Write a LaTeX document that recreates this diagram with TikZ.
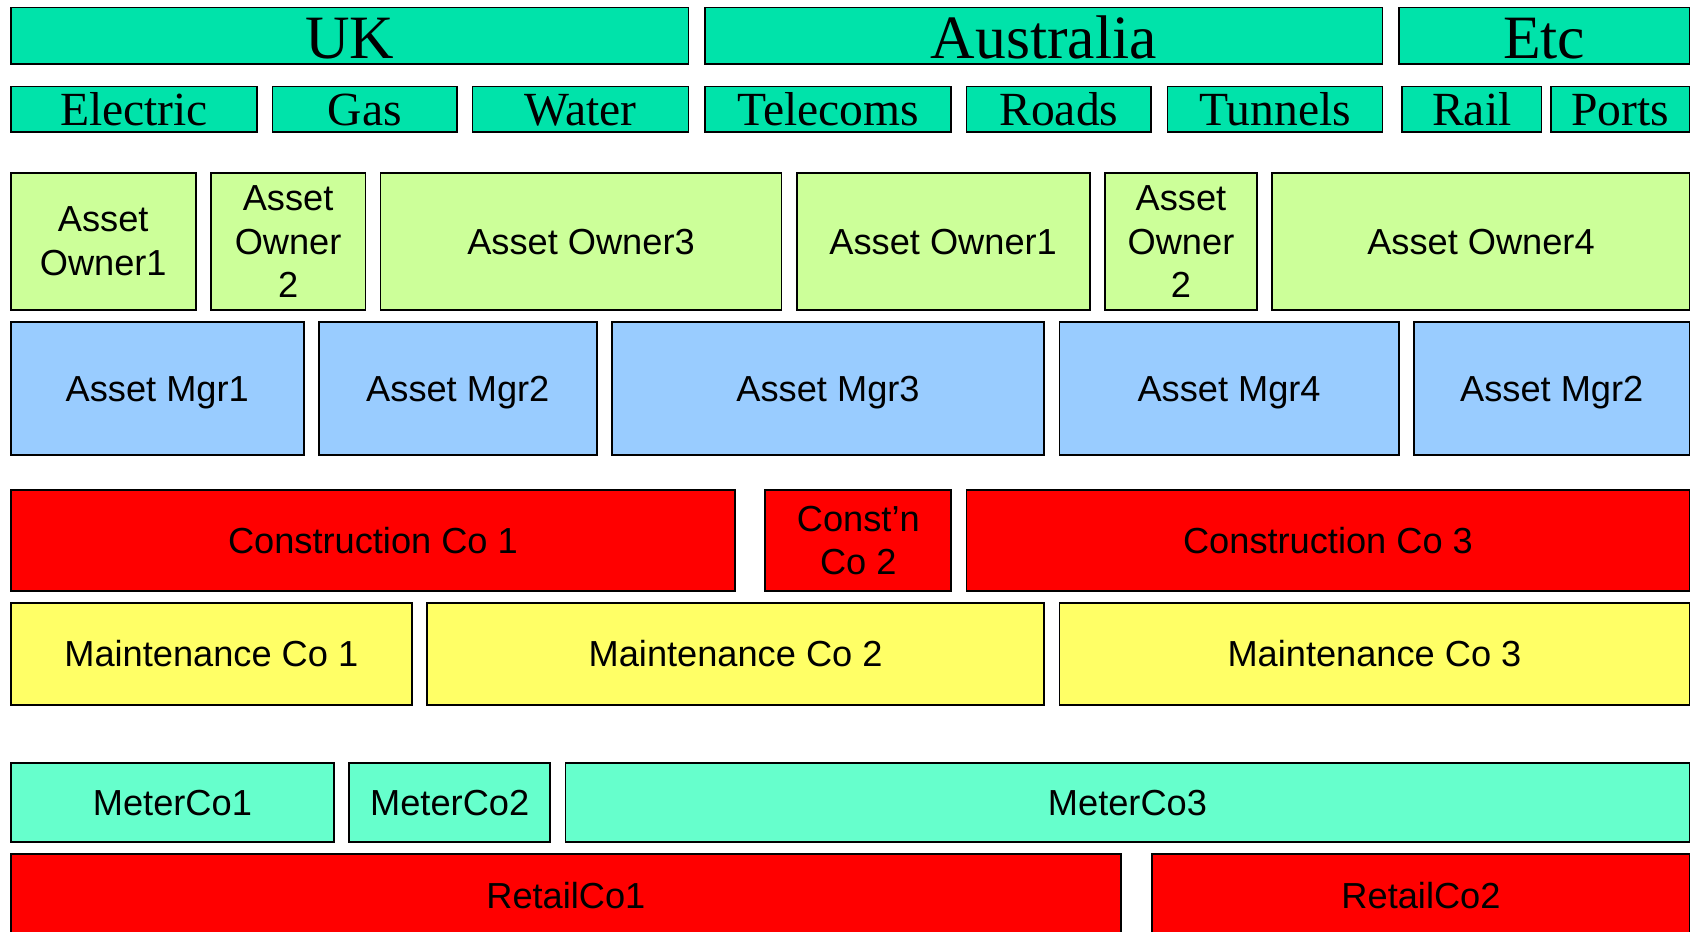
\documentclass[tikz,border=0pt]{standalone}
\usepackage{fontspec}
\setmainfont{Liberation Serif}
\setsansfont{Liberation Sans}
\definecolor{regionteal}{RGB}{0,227,170}
\definecolor{ownergreen}{RGB}{204,255,153}
\definecolor{mgrblue}{RGB}{153,204,255}
\definecolor{conred}{RGB}{255,0,0}
\definecolor{mainyellow}{RGB}{255,255,102}
\definecolor{meteraqua}{RGB}{102,255,204}
\tikzset{
  cellbox/.style={draw=black, line width=1.6pt, inner sep=0pt, outer sep=0pt, align=center},
  % single-line labels: capitals centred in the box
  oneline/.style={text height=24pt, text depth=0pt},
  country/.style={cellbox, fill=regionteal, font=\rmfamily\fontsize{57}{60}\selectfont,
    text height=41.7pt, text depth=0pt},
  sector/.style={cellbox, fill=regionteal, font=\rmfamily\fontsize{44}{48}\selectfont,
    text height=31.1pt, text depth=0pt},
  owner/.style={cellbox, fill=ownergreen, font=\sffamily\fontsize{33.5}{40.5}\selectfont},
  manager/.style={cellbox, fill=mgrblue, font=\sffamily\fontsize{33.5}{40.5}\selectfont},
  builder/.style={cellbox, fill=conred, font=\sffamily\fontsize{33.5}{40.5}\selectfont},
  maintainer/.style={cellbox, fill=mainyellow, font=\sffamily\fontsize{33.5}{40.5}\selectfont},
  meter/.style={cellbox, fill=meteraqua, font=\sffamily\fontsize{33.5}{40.5}\selectfont},
  retailer/.style={cellbox, fill=conred, font=\sffamily\fontsize{33.5}{40.5}\selectfont},
}
% \cell{name}{left}{top}{right}{bottom}{style}{text}
\newcommand\cell[7]{%
  \node[#6, minimum width={#4-#2}, minimum height={#5-#3}] (#1)
    at ({(#2+#4)/2},{(#3+#5)/2}) {#7};}
\begin{document}
\begin{tikzpicture}[x=1pt, y=-1pt]
  \useasboundingbox (0,0) rectangle (1568,862);
  \clip (0,0) rectangle (1568,862);
  % countries
  \cell{uk}{10}{7}{637}{59}{country}{UK}
  \cell{aus}{652}{7}{1279}{59}{country}{Australia}
  \cell{etc}{1294}{7}{1563}{59}{country}{Etc}
  % sectors
  \cell{elec}{10}{80}{238}{122}{sector}{Electric}
  \cell{gas}{252}{80}{423}{122}{sector}{Gas}
  \cell{water}{437}{80}{637}{122}{sector}{Water}
  \cell{tele}{652}{80}{880}{122}{sector}{Telecoms}
  \cell{roads}{894}{80}{1065}{122}{sector}{Roads}
  \cell{tunnels}{1080}{80}{1279}{122}{sector}{Tunnels}
  \cell{rail}{1297}{80}{1426}{122}{sector}{Rail}
  \cell{ports}{1435}{80}{1563}{122}{sector}{Ports}
  % asset owners
  \cell{aoA}{10}{160}{181}{287}{owner}{Asset\\Owner1}
  \cell{aoB}{195}{160}{338}{287}{owner}{Asset\\Owner\\2}
  \cell{aoC}{352}{160}{723}{287}{owner,oneline}{Asset Owner3}
  \cell{aoD}{737}{160}{1008}{287}{owner,oneline}{Asset Owner1}
  \cell{aoE}{1022}{160}{1163}{287}{owner}{Asset\\Owner\\2}
  \cell{aoF}{1177}{160}{1563}{287}{owner,oneline}{Asset Owner4}
  % asset managers
  \cell{amA}{10}{298}{281}{421}{manager,oneline}{Asset Mgr1}
  \cell{amB}{295}{298}{552}{421}{manager,oneline}{Asset Mgr2}
  \cell{amC}{566}{298}{966}{421}{manager,oneline}{Asset Mgr3}
  \cell{amD}{980}{298}{1294}{421}{manager,oneline}{Asset Mgr4}
  \cell{amE}{1308}{298}{1563}{421}{manager,oneline}{Asset Mgr2}
  % construction companies
  \cell{ccA}{10}{453}{680}{547}{builder,oneline}{Construction Co 1}
  \cell{ccB}{708}{453}{880}{547}{builder}{Const’n\\Co 2}
  \cell{ccC}{894}{453}{1563}{547}{builder,oneline}{Construction Co 3}
  % maintenance companies
  \cell{mcA}{10}{558}{381}{652}{maintainer,oneline}{Maintenance Co 1}
  \cell{mcB}{395}{558}{966}{652}{maintainer,oneline}{Maintenance Co 2}
  \cell{mcC}{980}{558}{1563}{652}{maintainer,oneline}{Maintenance Co 3}
  % meter companies
  \cell{meA}{10}{706}{309}{779}{meter,oneline}{MeterCo1}
  \cell{meB}{323}{706}{509}{779}{meter,oneline}{MeterCo2}
  \cell{meC}{523}{706}{1563}{779}{meter,oneline}{MeterCo3}
  % retail companies
  \cell{rcA}{10}{790}{1037}{866}{retailer,oneline}{RetailCo1}
  \cell{rcB}{1066}{790}{1563}{866}{retailer,oneline}{RetailCo2}
\end{tikzpicture}
\end{document}
